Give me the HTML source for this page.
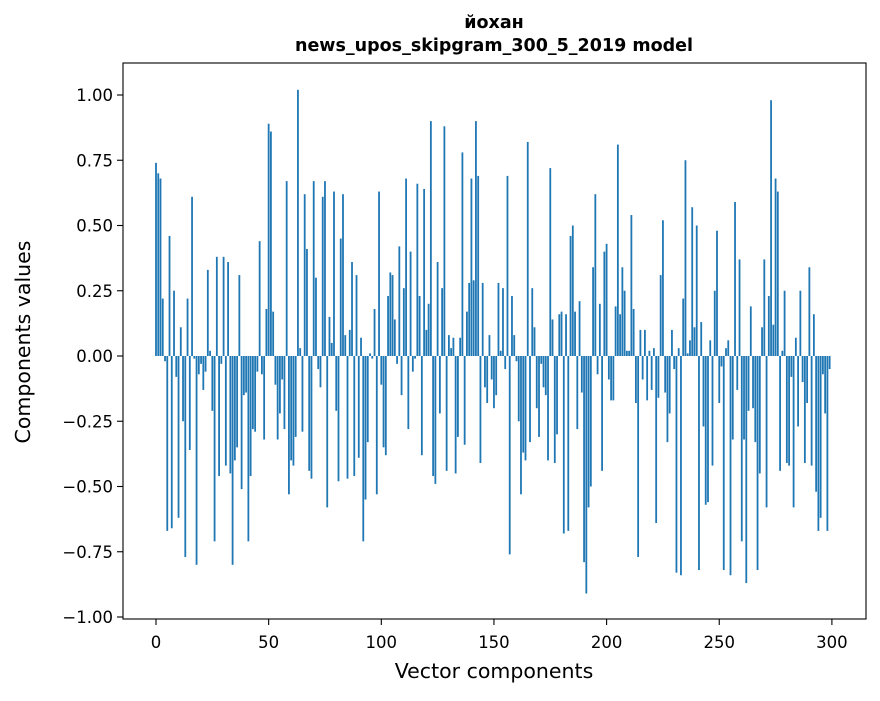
<!DOCTYPE html>
<html><head><meta charset="utf-8"><style>
body{margin:0;background:#fff;}
svg text{font-family:"DejaVu Sans","Liberation Sans",sans-serif;}
</style></head><body>
<svg id="chart" width="880" height="696" xmlns="http://www.w3.org/2000/svg">
<rect width="880" height="696" fill="#fff"/>
<text x="494" y="28" text-anchor="middle" font-size="17.5" font-weight="bold">йохан</text>
<text x="494" y="51" text-anchor="middle" font-size="17.5" font-weight="bold">news_upos_skipgram_300_5_2019 model</text>
<g id="bars"></g>
<g id="axes"></g>
<rect x="123" y="63" width="743" height="556" fill="none" stroke="#000" stroke-width="1.1"/>
<text x="494" y="678" text-anchor="middle" font-size="20.5">Vector components</text>
<text transform="translate(30,342) rotate(-90)" text-anchor="middle" font-size="20.5">Components values</text>
</svg>
<script>
const values = [
0.74,0.70,0.68,0.22,-0.02,-0.67,0.46,-0.66,0.25,-0.08,
-0.62,0.11,-0.25,-0.77,0.22,-0.36,0.61,-0.01,-0.80,-0.07,
-0.03,-0.13,-0.06,0.33,0.02,-0.21,-0.71,0.38,-0.46,-0.03,
0.38,-0.42,0.36,-0.45,-0.80,-0.40,-0.35,0.31,-0.51,-0.15,
-0.14,-0.71,-0.46,-0.28,-0.29,-0.06,0.44,-0.07,-0.32,0.18,
0.89,0.86,0.17,-0.11,-0.32,-0.22,-0.09,-0.28,0.67,-0.53,
-0.40,-0.42,-0.31,1.02,0.03,-0.29,0.62,0.41,-0.44,-0.47,
0.67,0.30,-0.05,-0.12,0.61,0.67,-0.58,0.15,0.05,0.63,
-0.21,-0.48,0.45,0.62,0.08,-0.47,0.10,0.36,-0.46,0.31,
-0.39,0.07,-0.71,-0.55,-0.33,0.01,-0.01,0.18,-0.53,0.63,
-0.11,-0.35,-0.38,0.23,0.32,0.31,0.14,-0.03,0.42,-0.15,
0.26,0.68,-0.28,0.40,-0.06,-0.01,0.66,0.23,-0.38,0.64,
0.10,0.20,0.90,-0.46,-0.49,0.36,-0.22,0.26,0.88,-0.44,
0.08,0.03,0.07,-0.45,-0.31,0.07,0.78,-0.34,0.17,0.28,
0.68,0.29,0.90,0.69,-0.41,0.28,-0.12,-0.18,0.08,-0.09,
-0.20,-0.15,0.28,0.02,0.26,-0.05,0.69,-0.76,0.23,0.08,
-0.02,-0.25,-0.53,-0.37,-0.40,0.82,-0.33,0.26,0.11,-0.20,
-0.31,-0.03,-0.12,-0.15,-0.40,0.72,0.14,-0.41,-0.30,0.16,
0.17,-0.68,0.16,-0.67,0.46,0.50,0.17,-0.28,0.21,-0.14,
-0.79,-0.91,-0.58,-0.50,0.34,0.62,-0.07,0.20,-0.44,0.40,
0.43,-0.09,-0.17,-0.17,0.19,0.81,0.16,0.34,0.25,0.02,
0.02,0.54,0.18,-0.18,-0.77,0.10,-0.09,0.10,-0.17,0.02,
-0.13,0.03,-0.64,-0.16,0.31,0.52,-0.14,-0.33,-0.22,0.10,
-0.05,-0.83,0.03,-0.84,0.22,0.75,0.01,0.06,0.57,0.11,
0.50,-0.82,0.13,-0.27,-0.57,-0.56,0.06,-0.42,0.25,0.48,
-0.18,-0.04,-0.82,0.03,0.06,-0.84,-0.32,0.59,-0.13,0.37,
-0.71,-0.32,-0.87,-0.21,0.19,-0.20,-0.33,-0.82,-0.45,0.11,
0.37,-0.58,0.23,0.98,0.12,0.68,0.63,-0.44,0.02,0.25,
-0.41,-0.42,-0.08,-0.58,0.07,-0.27,0.25,-0.10,-0.41,-0.18,
0.34,-0.42,0.16,-0.52,-0.67,-0.62,-0.07,-0.22,-0.67,-0.05
];
const xTicks = [0,50,100,150,200,250,300];
const xTickLabels = ["0","50","100","150","200","250","300"];
const yTicks = [-1,-0.75,-0.5,-0.25,0,0.25,0.5,0.75,1];
const yTickLabels = ["\u22121.00","\u22120.75","\u22120.50","\u22120.25","0.00","0.25","0.50","0.75","1.00"];

const NS="http://www.w3.org/2000/svg";
function xs(i){return 156+2.253*i;}
function ys(v){return 356-261*v;}
const bars=document.getElementById('bars');
values.forEach((v,i)=>{
  const r=document.createElementNS(NS,'rect');
  
  
  const y0=ys(0), y1=ys(v);
  r.setAttribute('x',xs(i)-0.9);
  r.setAttribute('width',1.8);
  r.setAttribute('y',Math.min(y0,y1));
  r.setAttribute('height',Math.abs(y1-y0));
  r.setAttribute('fill','#1f77b4');
  bars.appendChild(r);
});
const axes=document.getElementById('axes');
xTicks.forEach((t,k)=>{
  const l=document.createElementNS(NS,'line');
  
  
  l.setAttribute('x1',xs(t));l.setAttribute('x2',xs(t));
  l.setAttribute('y1',619);l.setAttribute('y2',625);
  l.setAttribute('stroke','#000');l.setAttribute('stroke-width','1.1');
  axes.appendChild(l);
  const tx=document.createElementNS(NS,'text');
  
  
  tx.setAttribute('x',xs(t));tx.setAttribute('y',648);
  tx.setAttribute('text-anchor','middle');tx.setAttribute('font-size','16.5');
  tx.textContent=xTickLabels[k];
  axes.appendChild(tx);
});
yTicks.forEach((t,k)=>{
  const l=document.createElementNS(NS,'line');
  
  
  l.setAttribute('x1',117);l.setAttribute('x2',123);
  l.setAttribute('y1',ys(t));l.setAttribute('y2',ys(t));
  l.setAttribute('stroke','#000');l.setAttribute('stroke-width','1.1');
  axes.appendChild(l);
  const tx=document.createElementNS(NS,'text');
  
  
  tx.setAttribute('x',113);tx.setAttribute('y',ys(t)+6);
  tx.setAttribute('text-anchor','end');tx.setAttribute('font-size','16.5');
  tx.textContent=yTickLabels[k];
  axes.appendChild(tx);
});
</script>
</body></html>
